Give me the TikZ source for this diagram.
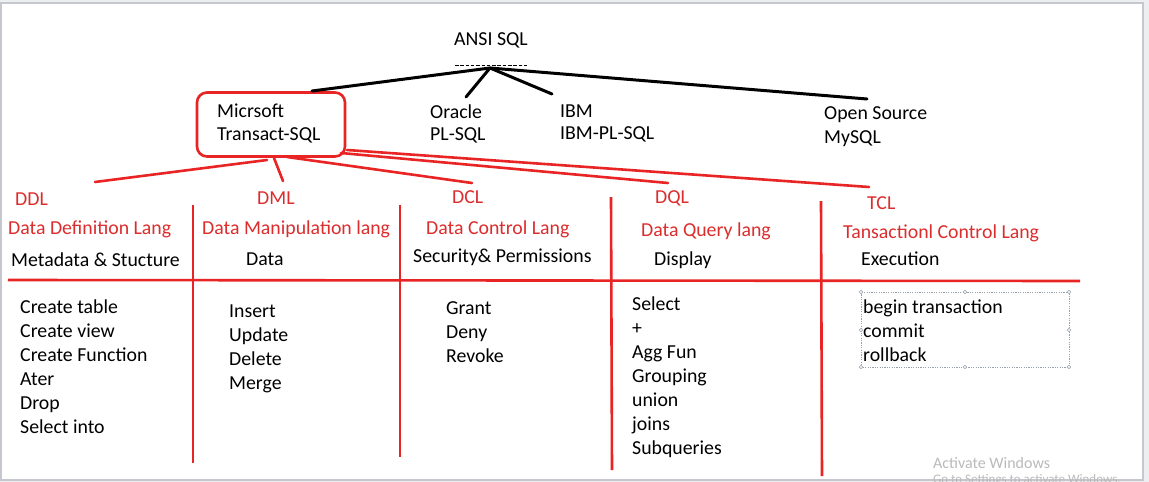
\documentclass[tikz,border=0pt]{standalone}
\usepackage{fontspec}
\setmainfont{Carlito}
\definecolor{redline}{RGB}{232,36,36}
\definecolor{redtext}{RGB}{220,45,45}
\definecolor{framegray}{RGB}{196,200,206}
\definecolor{outgray}{RGB}{236,238,240}
\definecolor{handlegray}{RGB}{150,160,170}
\definecolor{wmgray}{RGB}{186,186,186}
\tikzset{
  txt/.style={font=\fontsize{19.8}{24}\selectfont, inner sep=0pt, anchor=west, text=black},
  rtxt/.style={txt, text=redtext},
  item/.style={font=\fontsize{19.8}{24}\selectfont, inner sep=0pt, anchor=base west, text=black},
  blkln/.style={line width=3pt, black, line cap=round},
  redln/.style={line width=2.6pt, redline, line cap=round},
  colln/.style={line width=2.6pt, redline},
  wm/.style={font=\fontsize{16}{18}\selectfont, inner sep=0pt, anchor=west, text=wmgray},
  handle/.style={circle, draw=handlegray, fill=white, line width=0.5pt, inner sep=0pt, minimum size=3.5pt}
}
\begin{document}
\begin{tikzpicture}[x=1pt,y=-1pt]
\useasboundingbox (0,0) rectangle (1149,482);
% slide frame
\fill[outgray] (0,0) rectangle (1149,482);
\fill[white] (1,3) rectangle (1143,480);
\draw[framegray, line width=1.5pt] (1,3) rectangle (1143,480);

% top level
\node[txt, anchor=center] (ansi) at (491,40) {ANSI SQL};
\draw[black, line width=0.9pt, dash pattern=on 3.5pt off 1.8pt] (455,65) -- (527,65);
\coordinate (apex) at (490,68);

\node[draw=redline, line width=2.6pt, rounded corners=10pt, minimum width=148pt, minimum height=64pt] (ms) at (271,124.5) {};
\node[txt] (micr) at (217,111) {Micrsoft};
\node[txt] (tsql) at (217,135) {Transact-SQL};
\node[txt] (orc) at (430,112) {Oracle};
\node[txt] (plsql) at (430,135) {PL-SQL};
\node[txt] (ibm) at (560,111) {IBM};
\node[txt] (ibmpl) at (560,134) {IBM-PL-SQL};
\node[txt] (open) at (824,115) {Open Source};
\node[txt] (mysql) at (824,139) {MySQL};

\coordinate (msT) at (312,91);
\coordinate (orcT) at (466,97);
\coordinate (ibmT) at (552,94);
\coordinate (openT) at (867,99);
\draw[blkln] (apex) -- (msT);
\draw[blkln] (apex) -- (orcT);
\draw[blkln] (apex) -- (ibmT);
\draw[blkln] (apex) -- (openT);

% red connectors from the box
\coordinate (s1) at (267,160);
\coordinate (s2) at (274,158);
\coordinate (s3) at (287,157);
\coordinate (s4) at (341,153);
\coordinate (s5) at (347,150);
\coordinate (ddlT) at (95,182);
\coordinate (dmlT) at (283,181);
\coordinate (dclT) at (472,183);
\coordinate (dqlT) at (668,183);
\coordinate (tclT) at (869,187);
\draw[redln] (s1) -- (ddlT);
\draw[redln] (s2) -- (dmlT);
\draw[redln] (s3) -- (dclT);
\draw[redln] (s4) -- (dqlT);
\draw[redln] (s5) -- (tclT);

% headers
\node[rtxt] (ddl) at (15,199) {DDL};
\node[rtxt] (dml) at (257,198) {DML};
\node[rtxt] (dcl) at (452,197) {DCL};
\node[rtxt] (dql) at (655,198) {DQL};
\node[rtxt] (tcl) at (867,203) {TCL};
\node[rtxt] (ddlN) at (8,229) {Data Definition Lang};
\node[rtxt] (dmlN) at (202,229) {Data Manipulation lang};
\node[rtxt] (dclN) at (426,229) {Data Control Lang};
\node[rtxt] (dqlN) at (641,231) {Data Query lang};
\node[rtxt] (tclN) at (843,233) {Tansactionl Control Lang};

\node[txt] (ddlD) at (11,260) {Metadata \& Stucture};
\node[txt] (dmlD) at (246,259) {Data};
\node[txt] (dclD) at (413,257) {Security\& Permissions};
\node[txt] (dqlD) at (654,260) {Display};
\node[txt] (tclD) at (861,259) {Execution};

% grid lines
\draw[colln] (8,280) -- (1080,281);
\draw[colln] (193,205) -- (193,463);
\draw[colln] (400,205) -- (400,457);
\draw[colln] (611,197) -- (612,470);
\draw[colln] (821,201) -- (822,476);

% lists
\foreach \t [count=\i from 0] in {Create table,Create view,Create Function,Ater,Drop,Select into}
  \node[item] (ddl-\i) at (20,{313+24*\i}) {\t};
\foreach \t [count=\i from 0] in {Insert,Update,Delete,Merge}
  \node[item] (dml-\i) at (229,{317+24*\i}) {\t};
\foreach \t [count=\i from 0] in {Grant,Deny,Revoke}
  \node[item] (dcl-\i) at (446,{314+24*\i}) {\t};
\foreach \t [count=\i from 0] in {Select,+,Agg Fun,Grouping,union,joins,Subqueries}
  \node[item] (dql-\i) at (632,{310+24*\i}) {\t};
\foreach \t [count=\i from 0] in {begin transaction,commit,rollback}
  \node[item] (tcl-\i) at (863,{313+24*\i}) {\t};

% selection box around TCL list
\draw[handlegray, line width=0.6pt, dash pattern=on 1.2pt off 1.2pt] (861,292) rectangle (1069,367);
\foreach \p in {(861,292),(965,292),(1069,292),(861,330),(1069,330),(861,367),(965,367),(1069,367)}
  \node[handle] at \p {};

% watermark
\node[wm] (act) at (933,463) {Activate Windows};
\node[wm, font=\fontsize{13}{15}\selectfont] (goto) at (933,480) {Go to Settings to activate Windows.};
\end{tikzpicture}
\end{document}
